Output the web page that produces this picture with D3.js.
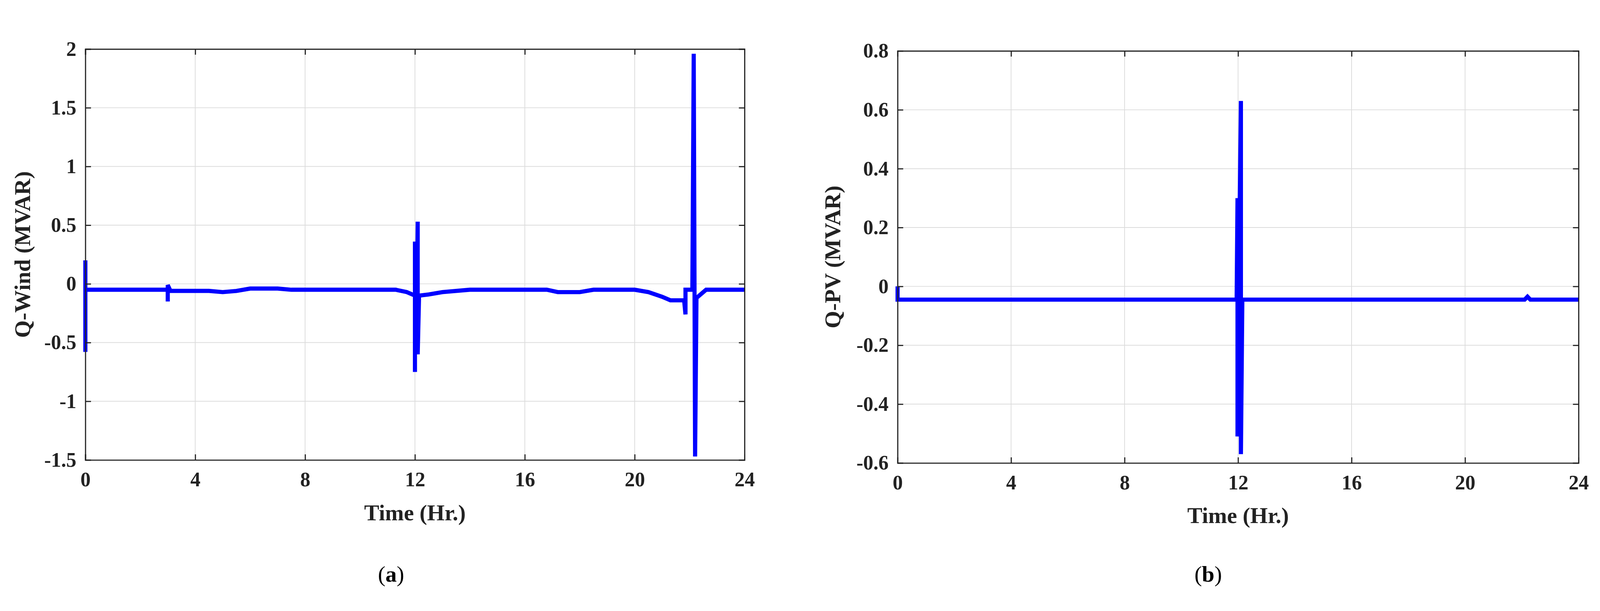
<!DOCTYPE html><html><head><meta charset="utf-8">
<script src="https://cdn.jsdelivr.net/npm/d3@7"></script>
<style>html,body{margin:0;padding:0;background:#fff;overflow:hidden;width:100%;height:100%}svg{display:block;width:100vw;height:100vh}svg text{font-family:"Liberation Serif","Times New Roman",serif;font-weight:bold}</style>
</head><body><svg id="c" viewBox="0 0 4255 1563" preserveAspectRatio="xMidYMid meet"></svg>
<script>
const windT=[0,0,0,0.05,2.9,3.0,3.0,3.0,3.1,3.6,4.5,5.0,5.5,6.0,7.0,7.5,11.3,11.7,12.0,12.0,12.0,12.05,12.05,12.1,12.1,12.15,12.5,13.0,14.0,16.8,17.2,18.0,18.5,20.0,20.5,21.0,21.3,21.8,21.85,21.85,22.1,22.15,22.2,22.25,22.6,24];
const windV=[0.2,-0.58,-0.05,-0.05,-0.05,-0.05,-0.15,-0.01,-0.06,-0.06,-0.06,-0.07,-0.06,-0.04,-0.04,-0.05,-0.05,-0.07,-0.1,-0.75,0.36,-0.6,-0.6,0.53,-0.6,-0.1,-0.09,-0.07,-0.05,-0.05,-0.07,-0.07,-0.05,-0.05,-0.07,-0.11,-0.14,-0.14,-0.26,-0.05,-0.05,1.96,-1.47,-0.12,-0.05,-0.05];
const pvT=[0,0,0.05,11.95,11.98,11.98,12.02,12.1,12.1,12.15,22.1,22.2,22.3,24];
const pvV=[0,-0.045,-0.045,-0.045,0.3,-0.51,-0.045,0.63,-0.57,-0.045,-0.045,-0.035,-0.045,-0.045];
const xTicks=[0,4,8,12,16,20,24];
const windTicks=[-1.5,-1,-0.5,0,0.5,1,1.5,2];
const pvTicks=[-0.6,-0.4,-0.2,0,0.2,0.4,0.6,0.8];
const svg=d3.select("#c");
function panel(o){
  const g=svg.append("g");
  const x=d3.scaleLinear().domain([0,24]).range([o.x0,o.x1]);
  const y=d3.scaleLinear().domain(o.dom).range([o.y1,o.y0]);
  xTicks.forEach(t=>g.append("line").attr("x1",x(t)).attr("x2",x(t)).attr("y1",o.y0).attr("y2",o.y1).attr("stroke","#dcdcdc").attr("stroke-width",2));
  o.yt.forEach(t=>g.append("line").attr("y1",y(t)).attr("y2",y(t)).attr("x1",o.x0).attr("x2",o.x1).attr("stroke","#dcdcdc").attr("stroke-width",2));
  const data=o.t.map((t,i)=>[t,o.v[i]]);
  g.append("path").attr("d",d3.line().x(d=>x(d[0])).y(d=>y(d[1]))(data)).attr("fill","none").attr("stroke","#0000ff").attr("stroke-width",11).attr("stroke-linejoin","miter");
  const fmt=d=>String(d);
  g.append("g").attr("transform",`translate(0,${o.y1})`).call(d3.axisBottom(x).tickValues(xTicks).tickSize(-15).tickPadding(32).tickFormat(fmt));
  g.append("g").attr("transform",`translate(0,${o.y0})`).call(d3.axisTop(x).tickValues(xTicks).tickSize(-15).tickFormat(""));
  g.append("g").attr("transform",`translate(${o.x0},0)`).call(d3.axisLeft(y).tickValues(o.yt).tickSize(-15).tickPadding(24).tickFormat(fmt));
  g.append("g").attr("transform",`translate(${o.x1},0)`).call(d3.axisRight(y).tickValues(o.yt).tickSize(-15).tickFormat(""));
  g.selectAll(".domain").attr("stroke","#222").attr("stroke-width",3);
  g.selectAll(".tick line").attr("stroke","#222").attr("stroke-width",3);
  g.selectAll(".tick text").attr("font-size",54).attr("fill","#222");
  g.append("text").attr("x",(o.x0+o.x1)/2).attr("y",o.y1+160).attr("text-anchor","middle").attr("font-size",60).attr("fill","#222").text("Time (Hr.)");
  g.append("text").attr("transform",`translate(${o.lx},${(o.y0+o.y1)/2}) rotate(-90)`).attr("text-anchor","middle").attr("font-size",60).attr("fill","#222").text(o.label);
  const c=g.append("text").attr("x",o.cx).attr("y",1515).attr("text-anchor","middle").attr("font-size",60).attr("fill","#000").style("font-weight","normal");
  c.append("tspan").text("(");c.append("tspan").style("font-weight","bold").text(o.cap);c.append("tspan").text(")");
}
panel({x0:227,x1:1980,y0:100,y1:1192,dom:[-1.5,2],yt:windTicks,t:windT,v:windV,label:"Q-Wind (MVAR)",lx:80,cx:1040,cap:"a"});
panel({x0:2387,x1:4198,y0:105,y1:1200,dom:[-0.6,0.8],yt:pvTicks,t:pvT,v:pvV,label:"Q-PV (MVAR)",lx:2235,cx:3213,cap:"b"});
</script></body></html>
